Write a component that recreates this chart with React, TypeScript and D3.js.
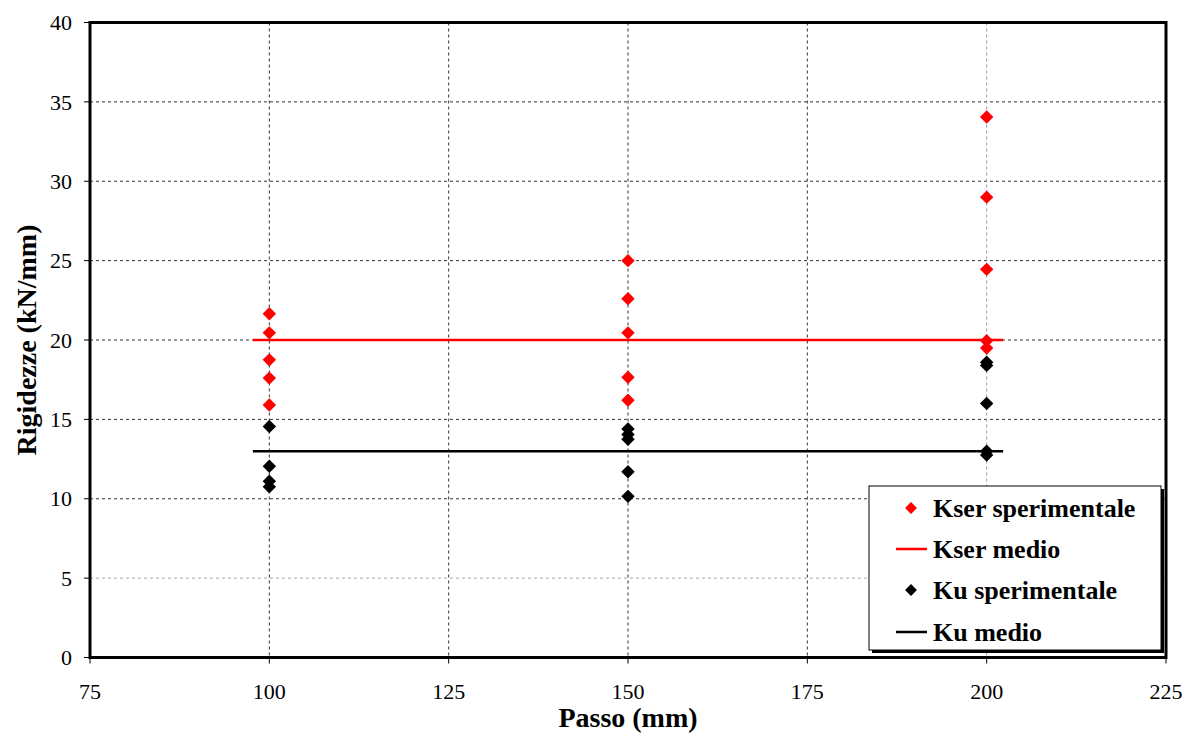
import React from "react";
import * as d3 from "d3";

const kserX100 = [21.65, 20.45, 18.75, 17.6, 15.9];
const kserX150 = [25.0, 22.6, 20.45, 17.65, 16.2];
const kserX200 = [34.05, 29.0, 24.45, 19.95, 19.5];
const kuX100 = [14.55, 12.05, 11.1, 10.75];
const kuX150 = [14.4, 14.05, 13.75, 11.7, 10.15];
const kuX200 = [18.6, 18.4, 16.0, 13.0, 12.75];
const passi = [100, 150, 200];
const kserMedio = 20.0;
const kuMedio = 13.0;
const medioRange = [97.7, 202.3];
const xTicks = [75, 100, 125, 150, 175, 200, 225];
const yTicks = [0, 5, 10, 15, 20, 25, 30, 35, 40];
const legendLabels = ["Kser sperimentale", "Kser medio", "Ku sperimentale", "Ku medio"];

const W = 1187, H = 734;
const L = 90, R = 1166, T = 22.5, B = 657.5;
const FONT = "Liberation Serif";

export default function App() {
  const x = d3.scaleLinear().domain([75, 225]).range([L, R]);
  const y = d3.scaleLinear().domain([0, 40]).range([B, T]);
  const kser = [kserX100, kserX150, kserX200].flatMap((arr, i) => arr.map((v) => [passi[i], v]));
  const ku = [kuX100, kuX150, kuX200].flatMap((arr, i) => arr.map((v) => [passi[i], v]));
  const diamond = d3.symbol().type(d3.symbolDiamond2).size(115)();
  const legDiamond = d3.symbol().type(d3.symbolDiamond2).size(90)();
  const line = d3.line<number[]>().x((d) => x(d[0])).y((d) => y(d[1]));
  const ts = { fontFamily: FONT };
  const lx = 869, ly = 486, lw = 292, lh = 164;
  const rowY = [508, 549, 590, 632];
  return (
    <svg width={W} height={H} style={{ position: "absolute", left: 0, top: 0, background: "#fff" }}>
      <rect x={0} y={0} width={W} height={H} fill="#fff" />
      {yTicks.filter((t) => t > 0 && t < 40).map((t) => (
        <line key={"gy" + t} x1={L} x2={R} y1={y(t)} y2={y(t)} stroke={t === 5 ? "#aaa" : "#333"} strokeWidth={1} strokeDasharray="3,3" />
      ))}
      {xTicks.filter((t) => t > 75 && t < 225).map((t) => (
        <line key={"gx" + t} x1={x(t)} x2={x(t)} y1={T} y2={B} stroke={t === 200 ? "#999" : "#333"} strokeWidth={1} strokeDasharray="3,3" />
      ))}
      <rect x={L} y={T} width={R - L} height={B - T} fill="none" stroke="#000" strokeWidth={3} />
      {yTicks.map((t) => (
        <g key={"ty" + t}>
          <line x1={L - 6} x2={L} y1={y(t)} y2={y(t)} stroke="#000" strokeWidth={1} />
          <text style={ts} x={72} y={y(t)} dy="0.35em" textAnchor="end" fontSize={22}>{t}</text>
        </g>
      ))}
      {xTicks.map((t) => (
        <g key={"tx" + t}>
          <line x1={x(t)} x2={x(t)} y1={B} y2={B + 6} stroke="#000" strokeWidth={1} />
          <text style={ts} x={x(t)} y={699} textAnchor="middle" fontSize={22}>{t}</text>
        </g>
      ))}
      <path d={line([[medioRange[0], kserMedio], [medioRange[1], kserMedio]]) || ""} stroke="#ff0000" strokeWidth={2.5} fill="none" />
      <path d={line([[medioRange[0], kuMedio], [medioRange[1], kuMedio]]) || ""} stroke="#000" strokeWidth={2.5} fill="none" />
      {kser.map((d, i) => (
        <path key={"ks" + i} d={diamond} transform={`translate(${x(d[0])},${y(d[1])})`} fill="#ff0000" />
      ))}
      {ku.map((d, i) => (
        <path key={"ku" + i} d={diamond} transform={`translate(${x(d[0])},${y(d[1])})`} fill="#000" />
      ))}
      <text style={ts} x={628} y={727} textAnchor="middle" fontSize={28} fontWeight="bold">Passo (mm)</text>
      <text style={ts} transform={`translate(36,${(T + B) / 2}) rotate(-90)`} textAnchor="middle" fontSize={28} fontWeight="bold">Rigidezze (kN/mm)</text>
      <rect x={lx + 3} y={ly + 3} width={lw} height={lh} fill="#000" />
      <rect x={lx} y={ly} width={lw} height={lh} fill="#fff" stroke="#000" strokeWidth={1} />
      {legendLabels.map((lab, i) => (
        <g key={"lg" + i}>
          {i % 2 === 0 ? (
            <path d={legDiamond} transform={`translate(911,${rowY[i]})`} fill={i === 0 ? "#ff0000" : "#000"} />
          ) : (
            <line x1={896} x2={927} y1={rowY[i]} y2={rowY[i]} stroke={i === 1 ? "#ff0000" : "#000"} strokeWidth={2.5} />
          )}
          <text style={ts} x={933} y={rowY[i]} dy="0.33em" fontSize={26} fontWeight="bold">{lab}</text>
        </g>
      ))}
    </svg>
  );
}
